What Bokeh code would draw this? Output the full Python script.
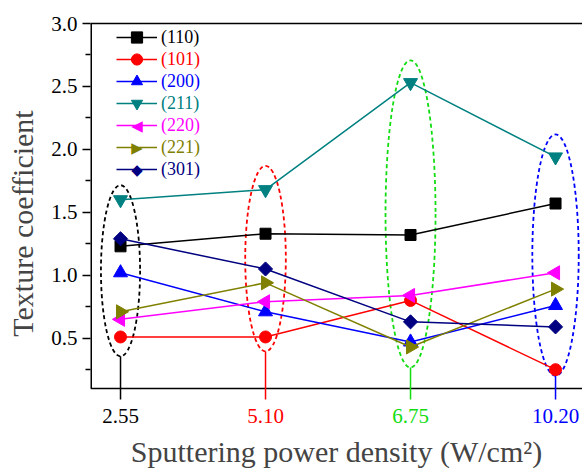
from bokeh.plotting import figure
from bokeh.models import (Range1d, FixedTicker, NumeralTickFormatter, Span,
                          Legend, LegendItem, Label, Arrow, LinearAxis)
from bokeh.embed import file_html
from bokeh.resources import INLINE
import math

# ---- data ----
x_labels = ["2.55", "5.10", "6.75", "10.20"]
x_colors = ["black", "red", "#11dd11", "blue"]
xs = [0, 1, 2, 3]

y_ticks = [0.5, 1.0, 1.5, 2.0, 2.5, 3.0]
y_minor_ticks = [0.25, 0.75, 1.25, 1.75, 2.25, 2.75]

series_names = ["(110)", "(101)", "(200)", "(211)", "(220)", "(221)", "(301)"]
s110 = [1.23, 1.33, 1.32, 1.57]
s101 = [0.51, 0.51, 0.80, 0.25]
s200 = [1.02, 0.71, 0.47, 0.76]
s211 = [1.60, 1.68, 2.53, 1.94]
s220 = [0.65, 0.79, 0.84, 1.02]
s221 = [0.71, 0.94, 0.43, 0.89]
s301 = [1.29, 1.05, 0.63, 0.59]
series_values = [s110, s101, s200, s211, s220, s221, s301]
series_colors = ["black", "red", "blue", "#008080", "#ff00ff", "#808000", "#000080"]
series_markers = ["square", "circle", "triangle", "inverted_triangle", "triangle", "triangle", "square"]
series_angles = [0, 0, 0, 0, math.pi / 2, -math.pi / 2, math.pi / 4]
series_sizes = [11, 12, 14, 14, 14, 14, 10]
# legend symbol for markers that must be rotated (Bokeh legends ignore angle)
legend_symbols = [None, None, None, None, "\u25c0", "\u25b6", "\u25c6"]

# highlight ellipses (center y, height, width) per column
ell_y = [1.036, 1.132, 1.487, 1.16]
ell_h = [1.36, 1.474, 2.44, 1.92]
ell_w = [0.27, 0.28, 0.345, 0.32]

FONT = "Liberation Serif"
X0, X1 = -0.207, 3.186
Y_AXIS = 0.1          # value where the x-axis line sits
Y_LO = -0.1775        # frame extends below the axis line to hold coloured tick labels

p = figure(width=582, height=470, output_backend="svg", toolbar_location=None,
           x_range=Range1d(X0, X1), y_range=Range1d(Y_LO, 3.0),
           min_border_left=90, min_border_right=0, min_border_top=23, min_border_bottom=46)
p.grid.visible = False
p.outline_line_color = None
p.background_fill_color = "white"
p.border_fill_color = "white"

# y axis (line drawn separately so it stops at the x-axis line)
ya = p.yaxis[0]
ya.ticker = FixedTicker(ticks=y_ticks, minor_ticks=y_minor_ticks)
ya.formatter = NumeralTickFormatter(format="0.0")
ya.axis_line_color = None
ya.major_tick_line_width = 1.5
ya.minor_tick_line_width = 1.5
ya.major_tick_in = 0
ya.major_tick_out = 8
ya.minor_tick_in = 0
ya.minor_tick_out = 5
ya.major_label_standoff = 5
ya.major_label_text_font = FONT
ya.major_label_text_font_size = "21px"
ya.major_label_text_color = "black"
ya.axis_label = "Texture coefficient"
ya.axis_label_text_font = FONT
ya.axis_label_text_font_size = "30px"
ya.axis_label_text_font_style = "normal"
ya.axis_label_standoff = 9
p.segment(x0=[X0], y0=[Y_AXIS], x1=[X0], y1=[3.0], line_color="black", line_width=3)

# x axis: only its title; line and coloured labels drawn inside the frame
xa = p.xaxis[0]
xa.ticker = FixedTicker(ticks=[])
xa.axis_line_color = None
xa.major_tick_out = 0
xa.major_tick_in = 0
xa.minor_tick_out = 0
xa.major_label_standoff = 0
xa.major_label_text_font_size = "0px"
xa.axis_label = "Sputtering power density (W/cm\u00b2)"
xa.axis_label_text_font = FONT
xa.axis_label_text_font_size = "30px"
xa.axis_label_text_font_style = "normal"
xa.axis_label_standoff = 11
p.add_layout(Span(location=Y_AXIS, dimension="width", line_color="black", line_width=1.5))

# top border
top = LinearAxis(ticker=FixedTicker(ticks=[]), major_label_text_font_size="0px",
                 major_tick_out=0, major_tick_in=0, minor_tick_out=0, axis_line_width=1.5)
p.add_layout(top, "above")

# ellipses, drop lines and coloured category labels
for i in range(4):
    p.ellipse(x=xs[i], y=ell_y[i], width=ell_w[i], height=ell_h[i], fill_color=None,
              line_color=x_colors[i], line_dash="4 3", line_width=1.8)
    bottom = ell_y[i] - ell_h[i] / 2
    p.add_layout(Arrow(start=None, end=None, x_start=xs[i], y_start=bottom, x_end=xs[i],
                       y_end=0.013, line_color=x_colors[i], line_width=1.5))
    p.add_layout(Label(x=xs[i], y=-0.114, text=x_labels[i], text_align="center",
                       text_baseline="middle", text_font=FONT, text_font_size="21px",
                       text_color=x_colors[i]))

# series + one legend per series (each with its own text colour)
LEG_X = 26
GW, GH = 41, 28
for k in range(len(series_names)):
    lr = p.line(xs, series_values[k], line_color=series_colors[k], line_width=1.5)
    sr = p.scatter(xs, series_values[k], marker=series_markers[k], size=series_sizes[k],
                   angle=series_angles[k], fill_color=series_colors[k],
                   line_color=series_colors[k])
    cy = 386 - 22 * k
    rends = [lr] if legend_symbols[k] else [lr, sr]
    leg = Legend(items=[LegendItem(label=series_names[k], renderers=rends)],
                 location=(LEG_X, cy - GH / 2), label_text_color=series_colors[k],
                 label_text_font=FONT, label_text_font_size="18px",
                 glyph_width=GW, glyph_height=GH, padding=0, margin=0, spacing=0,
                 label_standoff=4, border_line_color=None, background_fill_alpha=0)
    p.add_layout(leg, "center")
    if legend_symbols[k]:
        p.add_layout(Label(x=LEG_X + GW / 2, y=cy, x_units="screen", y_units="screen",
                           text=legend_symbols[k], text_align="center",
                           text_baseline="middle", text_font="DejaVu Sans",
                           text_font_size="15px", text_color=series_colors[k]))

open("out.html", "w").write(file_html(p, INLINE))
